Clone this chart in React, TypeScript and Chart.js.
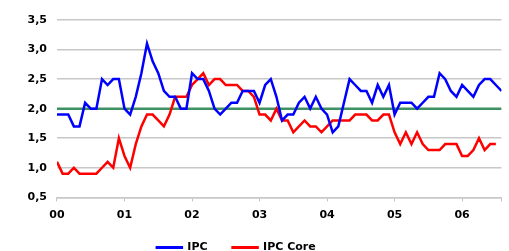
import React, { useEffect, useRef } from "react";
import { Chart, registerables } from "chart.js";

Chart.register(...registerables);

const yearLabels = ["00", "01", "02", "03", "04", "05", "06"];
const yTickLabels = ["0,5", "1,0", "1,5", "2,0", "2,5", "3,0", "3,5"];

const ipc = [
  1.9, 1.9, 1.9, 1.7, 1.7, 2.1, 2.0, 2.0, 2.5, 2.4, 2.5, 2.5,
  2.0, 1.9, 2.2, 2.6, 3.1, 2.8, 2.6, 2.3, 2.2, 2.2, 2.0, 2.0,
  2.6, 2.5, 2.5, 2.3, 2.0, 1.9, 2.0, 2.1, 2.1, 2.3, 2.3, 2.3,
  2.1, 2.4, 2.5, 2.2, 1.8, 1.9, 1.9, 2.1, 2.2, 2.0, 2.2, 2.0,
  1.9, 1.6, 1.7, 2.1, 2.5, 2.4, 2.3, 2.3, 2.1, 2.4, 2.2, 2.4,
  1.9, 2.1, 2.1, 2.1, 2.0, 2.1, 2.2, 2.2, 2.6, 2.5, 2.3, 2.2,
  2.4, 2.3, 2.2, 2.4, 2.5, 2.5, 2.4, 2.3,
];

const ipcCore = [
  1.1, 0.9, 0.9, 1.0, 0.9, 0.9, 0.9, 0.9, 1.0, 1.1, 1.0, 1.5,
  1.2, 1.0, 1.4, 1.7, 1.9, 1.9, 1.8, 1.7, 1.9, 2.2, 2.2, 2.2,
  2.4, 2.5, 2.6, 2.4, 2.5, 2.5, 2.4, 2.4, 2.4, 2.3, 2.3, 2.2,
  1.9, 1.9, 1.8, 2.0, 1.8, 1.8, 1.6, 1.7, 1.8, 1.7, 1.7, 1.6,
  1.7, 1.8, 1.8, 1.8, 1.8, 1.9, 1.9, 1.9, 1.8, 1.8, 1.9, 1.9,
  1.6, 1.4, 1.6, 1.4, 1.6, 1.4, 1.3, 1.3, 1.3, 1.4, 1.4, 1.4,
  1.2, 1.2, 1.3, 1.5, 1.3, 1.4, 1.4,
];

const target = 2.0;

const LEGEND_H = 21.5;
const LEGEND_DY = -12.5;
const LEGEND_DX = -26;

const legendTweak = {
  id: "legendTweak",
  beforeLayout(chart: any) {
    const lg = chart.legend;
    if (lg && !lg.__patched) {
      const orig = lg.fit;
      lg.fit = function () {
        orig.call(this);
        this.height = LEGEND_H;
      };
      lg.__patched = true;
    }
  },
  afterLayout(chart: any) {
    const lg = chart.legend;
    if (!lg) return;
    lg.top += LEGEND_DY;
    lg.left += LEGEND_DX;
    lg.right += LEGEND_DX;
  },
};

export default function App() {
  const ref = useRef<HTMLCanvasElement | null>(null);

  useEffect(() => {
    if (!ref.current) return;
    const n = ipc.length;
    const toPts = (arr: number[]) => arr.map((v, i) => ({ x: i, y: v }));
    const font = { family: "'DejaVu Sans', sans-serif", size: 11, weight: "bold" as const };
    const chart = new Chart(ref.current, {
      type: "line",
      plugins: [legendTweak],
      data: {
        datasets: [
          {
            label: "IPC",
            data: toPts(ipc),
            borderColor: "#0000ff",
            backgroundColor: "#0000ff",
            borderWidth: 2.5,
            pointRadius: 0,
            tension: 0,
          },
          {
            label: "IPC Core",
            data: toPts(ipcCore),
            borderColor: "#ff0000",
            backgroundColor: "#ff0000",
            borderWidth: 2.5,
            pointRadius: 0,
            tension: 0,
          },
          {
            label: "target",
            data: [
              { x: 0, y: target },
              { x: n - 1, y: target },
            ],
            borderColor: "#3f9163",
            backgroundColor: "#3f9163",
            borderWidth: 2.5,
            pointRadius: 0,
            tension: 0,
          },
        ],
      },
      options: {
        animation: false,
        responsive: true,
        maintainAspectRatio: false,
        layout: { padding: { top: 20, right: 2, left: 17.5, bottom: 0 } },
        plugins: {
          tooltip: { enabled: false },
          legend: {
            position: "bottom",
            labels: {
              filter: (item) => item.text !== "target",
              boxWidth: 25,
              boxHeight: 0.5,
              padding: 25,
              color: "#000",
              font,
            },
          },
        },
        scales: {
          x: {
            type: "linear",
            min: 0,
            max: n - 1,
            ticks: {
              stepSize: 12,
              autoSkip: false,
              color: "#000",
              font,
              padding: 7.5,
              maxRotation: 0,
              callback: (v) => {
                const i = Math.round(Number(v) / 12);
                return Number(v) % 12 === 0 ? yearLabels[i] ?? "" : "";
              },
            },
            grid: {
              display: true,
              drawOnChartArea: false,
              drawTicks: true,
              tickLength: 4,
              color: "#c0c0c0",
            },
            border: { display: true, color: "#c8c8c8", width: 1.5 },
          },
          y: {
            min: 0.5,
            max: 3.5,
            ticks: {
              stepSize: 0.5,
              color: "#000",
              font,
              padding: 10,
              callback: (v) => {
                const i = Math.round((Number(v) - 0.5) / 0.5);
                return yTickLabels[i] ?? "";
              },
            },
            grid: {
              color: "#c8c8c8",
              lineWidth: 1.5,
              drawTicks: false,
            },
            border: { display: false },
          },
        },
      },
    });
    return () => chart.destroy();
  }, []);

  return (
    <div style={{ position: "fixed", left: 0, top: 0, width: 509, height: 251, background: "#fff" }}>
      <canvas ref={ref} />
    </div>
  );
}
